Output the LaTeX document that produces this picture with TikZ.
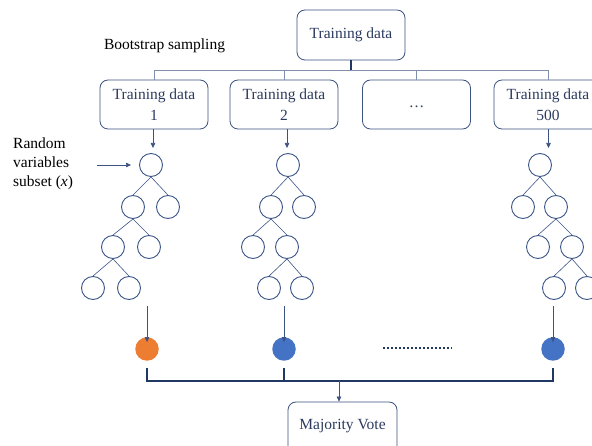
\documentclass[tikz,border=0pt]{standalone}
\usepackage{fontspec}
\setmainfont{Liberation Serif}
\usetikzlibrary{arrows.meta}
\definecolor{boxline}{HTML}{3C5280}
\definecolor{boxtext}{HTML}{2B3A5E}
\definecolor{busline}{HTML}{8090AC}
\definecolor{treeline}{HTML}{3A5689}
\definecolor{navy}{HTML}{1F3864}
\definecolor{vote1}{HTML}{ED7D31}
\definecolor{vote2}{HTML}{4472C4}
\tikzset{
  databox/.style={draw=boxline, line width=0.8pt, rounded corners=8pt,
    minimum width=108pt, minimum height=49pt, align=center,
    text=boxtext, font=\fontsize{15.5}{21}\selectfont, inner sep=0pt},
  treenode/.style={circle, draw=treeline, line width=0.9pt,
    minimum size=23pt, inner sep=0pt},
  treeedge/.style={draw=treeline, line width=0.6pt},
  votenode/.style={circle, minimum size=23.5pt, inner sep=0pt},
  arr/.style={draw=boxline, line width=0.6pt,
    -{Triangle[length=5pt,width=4.5pt]}},
  busedge/.style={draw=busline, line width=0.8pt},
  label/.style={font=\fontsize{15.5}{19}\selectfont, inner sep=0pt}
}
\begin{document}
\begin{tikzpicture}[x=1pt,y=-1pt]
\useasboundingbox (0,0) rectangle (592,446);
\clip (0,0) rectangle (592,446);

% source data and the bootstrap samples
\node[databox, minimum height=50pt] (top) at (351,35) {Training data};
\node[label] (boot) at (164.5,46) {Bootstrap sampling};
\node[databox] (b1) at (154,104.5) {Training data\\1};
\node[databox] (b2) at (284,104.5) {Training data\\2};
\node[databox] (b3) at (416.5,104.5) {};
\node[boxtext, label] (b3dots) at (416.5,107) {\ldots};
\node[databox] (b4) at (548,104.5) {Training data\\500};

\coordinate (bus) at (351,70);
\draw[draw=navy, line width=1.8pt] (top.south) -- (bus);
\draw[busedge] (b1.north) |- (bus);
\draw[busedge] (b4.north) |- (bus);
\draw[busedge] (b2.north) -- (b2.north |- bus);
\draw[busedge] (b3.north) -- (b3.north |- bus);

% feature subset note
\node[label, align=left, anchor=west] (rv) at (13,163.5) {Random\\variables\\subset (\textit{x})};
\coordinate (rvs) at (97,165);
\coordinate (rve) at (131,165);
\draw[arr] (rvs) -- (rve);

% tree 1
\node[treenode] (t1r) at (151,165) {};
\node[treenode] (t1a) at (133,207) {};
\node[treenode] (t1b) at (168,207) {};
\node[treenode] (t1c) at (113,247) {};
\node[treenode] (t1d) at (149,247) {};
\node[treenode] (t1e) at (93,288) {};
\node[treenode] (t1f) at (129,288) {};
\draw[treeedge] (t1r.south) -- (t1a.north) (t1r.south) -- (t1b.north)
  (t1a.south) -- (t1c.north) (t1a.south) -- (t1d.north)
  (t1c.south) -- (t1e.north) (t1c.south) -- (t1f.north);

% tree 2
\node[treenode] (t2r) at (288,165) {};
\node[treenode] (t2a) at (271,207) {};
\node[treenode] (t2b) at (304,207) {};
\node[treenode] (t2c) at (253,247) {};
\node[treenode] (t2d) at (287,247) {};
\node[treenode] (t2e) at (269,288) {};
\node[treenode] (t2f) at (302,288) {};
\draw[treeedge] (t2r.south) -- (t2a.north) (t2r.south) -- (t2b.north)
  (t2a.south) -- (t2c.north) (t2a.south) -- (t2d.north)
  (t2d.south) -- (t2e.north) (t2d.south) -- (t2f.north);

% tree 500
\node[treenode] (t3r) at (540,165) {};
\node[treenode] (t3a) at (523,207) {};
\node[treenode] (t3b) at (556,207) {};
\node[treenode] (t3c) at (538,247) {};
\node[treenode] (t3d) at (572,247) {};
\node[treenode] (t3e) at (554,288) {};
\node[treenode] (t3f) at (587,288) {};
\draw[treeedge] (t3r.south) -- (t3a.north) (t3r.south) -- (t3b.north)
  (t3b.south) -- (t3c.north) (t3b.south) -- (t3d.north)
  (t3d.south) -- (t3e.north) (t3d.south) -- (t3f.north);

% samples feed the trees
\coordinate (in1) at (153,148);
\coordinate (in2) at (287,148);
\coordinate (in3) at (548.5,148);
\draw[arr] (b1.south -| in1) -- (in1);
\draw[arr] (b2.south -| in2) -- (in2);
\draw[arr] (b4.south -| in3) -- (in3);

% tree predictions
\node[votenode, fill=vote1] (v1) at (147,349) {};
\node[votenode, fill=vote2] (v2) at (284,349) {};
\node[votenode, fill=vote2] (v3) at (553,349) {};
\coordinate (o1) at (147,306);
\coordinate (o2) at (284,306);
\coordinate (o3) at (553,306);
\draw[arr] (o1) -- ([yshift=-5pt]v1.north);
\draw[arr] (o2) -- ([yshift=-5pt]v2.north);
\draw[arr] (o3) -- ([yshift=-5pt]v3.north);
\coordinate (d1) at (383,348);
\coordinate (d2) at (452,348);
\draw[navy, line width=1.6pt, dash pattern=on 1.6pt off 2.4pt] (d1) -- (d2);

% aggregation
\node[databox, minimum width=109pt, minimum height=54pt] (vote) at (342.5,429) {};
\node[label, text=boxtext] (votetxt) at (342.5,426) {Majority Vote};
\coordinate (s1) at (147,368);
\coordinate (s2) at (284,368);
\coordinate (s3) at (553,368);
\coordinate (join) at (339,381);
\draw[navy, line width=1.3pt] (s1) |- (join) -| (s3);
\draw[navy, line width=1.3pt] (s2) -- (s2 |- join);
\draw[arr] (join) -- (join |- vote.north);
\end{tikzpicture}
\end{document}
